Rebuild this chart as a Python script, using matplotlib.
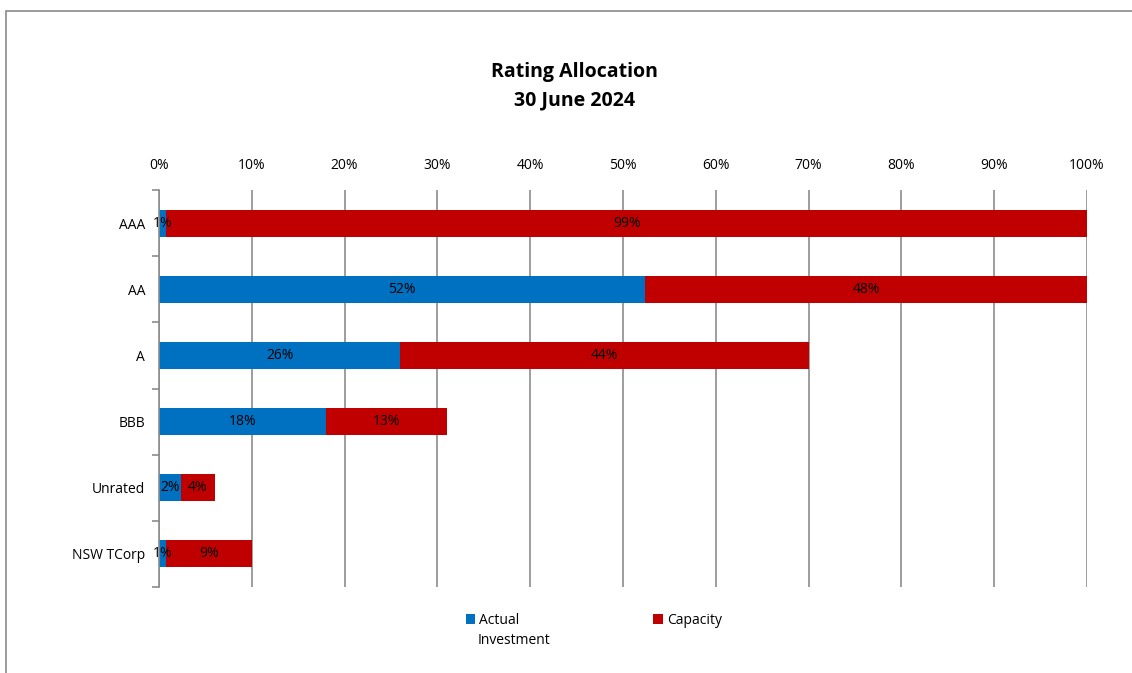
import matplotlib.pyplot as plt
from matplotlib.patches import Rectangle
import numpy as np

plt.rcParams['font.family'] = ['Open Sans', 'DejaVu Sans']

categories = ['AAA', 'AA', 'A', 'BBB', 'Unrated', 'NSW TCorp']
actual = [0.8, 52.4, 26.0, 18.0, 2.4, 0.8]
capacity = [99.2, 47.6, 44.0, 13.0, 3.6, 9.2]
actual_labels = ['1%', '52%', '26%', '18%', '2%', '1%']
capacity_labels = ['99%', '48%', '44%', '13%', '4%', '9%']

blue = '#0070C0'
red = '#C00000'
grey = '#8c8c8c'

fig = plt.figure(figsize=(11.32, 6.73), dpi=100)
# outer chart border
fig.patches.append(Rectangle((6 / 1132, -0.01), 1.02, 1 - 11 / 673 + 0.01,
                             transform=fig.transFigure, fill=False,
                             edgecolor='#8a8a8a', linewidth=1.2))

ax = fig.add_axes([159 / 1132, 1 - 587 / 673, 928 / 1132, 397 / 673])
y = np.arange(len(categories))
b1 = ax.barh(y, actual, height=0.41, color=blue, label='Actual')
b2 = ax.barh(y, capacity, left=actual, height=0.41, color=red, label='Capacity')

for i in range(len(categories)):
    ax.text(actual[i] / 2, y[i], actual_labels[i], ha='center', va='center',
            fontsize=10, color='black')
    ax.text(actual[i] + capacity[i] / 2, y[i], capacity_labels[i],
            ha='center', va='center', fontsize=10, color='black')

ax.set_xlim(0, 100)
ax.set_ylim(len(categories) - 0.5, -0.5)
ax.set_xticks(np.arange(0, 101, 10))
ax.set_xticklabels([f'{v}%' for v in range(0, 101, 10)], fontsize=10)
ax.xaxis.tick_top()
ax.tick_params(axis='x', length=0, pad=12)
ax.set_yticks(y)
ax.set_yticklabels(categories, fontsize=10)
ax.set_yticks(np.arange(-0.5, len(categories)), minor=True)
ax.tick_params(axis='y', which='major', length=0, pad=10)
ax.tick_params(axis='y', which='minor', length=5, color=grey, width=1.2)
ax.grid(axis='x', color=grey, linewidth=1.2)
ax.set_axisbelow(True)
for s in ['top', 'right', 'bottom']:
    ax.spines[s].set_visible(False)
ax.spines['left'].set_color(grey)
ax.spines['left'].set_linewidth(1.2)

fig.text(574 / 1132, 1 - 72 / 673, 'Rating Allocation', ha='center', va='center',
         fontsize=14, fontweight='bold')
fig.text(574 / 1132, 1 - 100 / 673, '30 June 2024', ha='center', va='center',
         fontsize=14, fontweight='bold')

leg = fig.legend(handles=[b1, b2], loc='center left', ncol=2,
                 bbox_to_anchor=(453 / 1132, 1 - 620 / 673), frameon=False,
                 fontsize=10, handlelength=0.7, handleheight=0.7,
                 handletextpad=0.3, columnspacing=9.6)
fig.text(478 / 1132, 1 - 641 / 673, 'Investment', ha='left', va='center',
         fontsize=10)

fig.savefig('out.png', dpi=100)
